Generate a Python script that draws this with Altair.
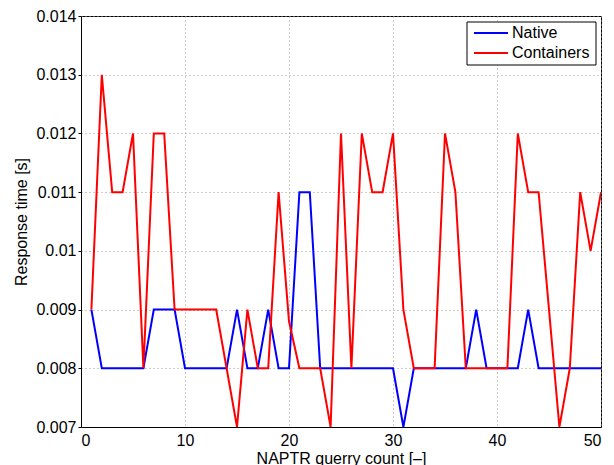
import altair as alt
import pandas as pd

counts = list(range(1, 51))
native = [0.009, 0.008, 0.008, 0.008, 0.008, 0.008, 0.009, 0.009, 0.009, 0.008,
          0.008, 0.008, 0.008, 0.008, 0.009, 0.008, 0.008, 0.009, 0.008, 0.008,
          0.011, 0.011, 0.008, 0.008, 0.008, 0.008, 0.008, 0.008, 0.008, 0.008,
          0.007, 0.008, 0.008, 0.008, 0.008, 0.008, 0.008, 0.009, 0.008, 0.008,
          0.008, 0.008, 0.009, 0.008, 0.008, 0.008, 0.008, 0.008, 0.008, 0.008]
containers = [0.009, 0.013, 0.011, 0.011, 0.012, 0.008, 0.012, 0.012, 0.009, 0.009,
              0.009, 0.009, 0.009, 0.008, 0.007, 0.009, 0.008, 0.008, 0.011, 0.0088,
              0.008, 0.008, 0.008, 0.007, 0.012, 0.008, 0.012, 0.011, 0.011, 0.012,
              0.009, 0.008, 0.008, 0.008, 0.012, 0.011, 0.008, 0.008, 0.008, 0.008,
              0.008, 0.012, 0.011, 0.011, 0.009, 0.007, 0.008, 0.011, 0.010, 0.011]
series_names = ["Native", "Containers"]
series_colors = ["#0000ff", "#ff0000"]
x_ticks = [0, 10, 20, 30, 40, 50]
y_ticks = [0.007, 0.008, 0.009, 0.010, 0.011, 0.012, 0.013, 0.014]

rows = []
for c, n, k in zip(counts, native, containers):
    rows.append({"count": c, "time": n, "series": "Native"})
    rows.append({"count": c, "time": k, "series": "Containers"})
df = pd.DataFrame(rows)

legend_df = pd.DataFrame({
    "series": series_names,
    "ypx": [17, 37],
})

FONT = "Liberation Sans"
FS = 16
W, H = 520, 411

x_enc = alt.X("count:Q",
              scale=alt.Scale(domain=[0, 50], nice=False, zero=False),
              axis=alt.Axis(values=x_ticks, title="NAPTR querry count [–]",
                            grid=True, gridDash=[1, 3], gridColor="#999999",
                            tickSize=0, labelPadding=5, titlePadding=2,
                            domainColor="black", labelColor="black", titleColor="black"))
y_enc = alt.Y("time:Q",
              scale=alt.Scale(domain=[0.007, 0.014], nice=False, zero=False),
              axis=alt.Axis(values=y_ticks, format=".3~f", title="Response time [s]",
                            grid=True, gridDash=[1, 3], gridColor="#999999",
                            tickSize=3, tickColor="black", labelPadding=2, titlePadding=6,
                            domainColor="black", labelColor="black", titleColor="black"))

color_scale = alt.Scale(domain=series_names, range=series_colors)

lines = alt.Chart(df).mark_line(strokeWidth=2, clip=True).encode(
    x=x_enc,
    y=y_enc,
    color=alt.Color("series:N", scale=color_scale, legend=None),
    order=alt.Order("count:Q"),
)

legend_box = alt.Chart(legend_df.head(1)).mark_rect(
    fill="white", stroke="black", strokeWidth=1
).encode(x=alt.value(386), x2=alt.value(515), y=alt.value(6), y2=alt.value(49))

legend_lines = alt.Chart(legend_df).mark_rule(strokeWidth=2).encode(
    x=alt.value(393), x2=alt.value(427),
    y=alt.Y("ypx:Q", scale=None),
    color=alt.Color("series:N", scale=color_scale, legend=None),
)

legend_text = alt.Chart(legend_df).mark_text(
    align="left", baseline="middle", font=FONT, fontSize=FS, color="black"
).encode(
    x=alt.value(431),
    y=alt.Y("ypx:Q", scale=None),
    text="series:N",
)

chart = alt.layer(lines, legend_box, legend_lines, legend_text).properties(
    width=W, height=H,
    autosize=alt.AutoSizeParams(type="none"),
    padding={"left": 73, "top": 8, "right": 5, "bottom": 40},
).configure_view(stroke="black", strokeWidth=1).configure_axis(
    labelFont=FONT, titleFont=FONT, labelFontSize=FS, titleFontSize=FS,
    titleFontWeight="normal",
)

chart.save("out.html", embed_options={"renderer": "svg", "actions": False})
